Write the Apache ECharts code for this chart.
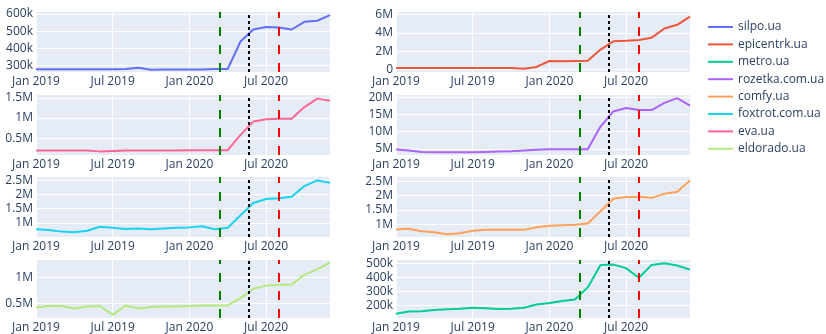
<!DOCTYPE html>
<html>
<head>
<meta charset="utf-8">
<script src="https://cdn.jsdelivr.net/npm/echarts@6/dist/echarts.min.js"></script>
<style>
  html, body { margin: 0; padding: 0; background: #fff; }
  #chart { width: 826px; height: 334px; }
</style>
</head>
<body>
<div id="chart"></div>
<script>
// monthly points, Jan 2019 .. Dec 2020
const months = [
  '2019-01', '2019-02', '2019-03', '2019-04', '2019-05', '2019-06',
  '2019-07', '2019-08', '2019-09', '2019-10', '2019-11', '2019-12',
  '2020-01', '2020-02', '2020-03', '2020-04', '2020-05', '2020-06',
  '2020-07', '2020-08', '2020-09', '2020-10', '2020-11', '2020-12'
];
const xTickLabels = ['Jan 2019', 'Jul 2019', 'Jan 2020', 'Jul 2020'];

const silpo = [278, 278, 278, 278, 278, 278, 278, 280, 287, 275, 276, 276,
  276, 276, 279, 280, 440, 510, 525, 521, 510, 555, 561, 594].map(v => v * 1e3);
const epicentrk = [0.2, 0.2, 0.2, 0.2, 0.2, 0.2, 0.2, 0.2, 0.2, 0.18, 0.1, 0.3,
  0.95, 0.92, 0.95, 0.97, 2.2, 3.1, 3.15, 3.25, 3.5, 4.5, 4.9, 5.8].map(v => v * 1e6);
const metro = [138, 154, 156, 165, 170, 175, 182, 177, 172, 175, 182, 205,
  216, 230, 240, 327, 488, 490, 465, 396, 488, 500, 484, 454].map(v => v * 1e3);
const rozetka = [4.8, 4.5, 4.1, 4.0, 4.0, 4.0, 4.0, 4.1, 4.2, 4.3, 4.5, 4.7,
  4.9, 4.9, 4.9, 4.9, 11.5, 15.9, 16.9, 16.3, 16.3, 18.4, 19.8, 17.6].map(v => v * 1e6);
const comfy = [0.81, 0.84, 0.75, 0.72, 0.65, 0.68, 0.77, 0.8, 0.8, 0.8, 0.8, 0.89,
  0.94, 0.96, 0.98, 1.02, 1.45, 1.89, 1.95, 1.96, 1.92, 2.06, 2.13, 2.53].map(v => v * 1e6);
const foxtrot = [0.77, 0.75, 0.69, 0.67, 0.72, 0.86, 0.83, 0.78, 0.8, 0.77, 0.8, 0.83,
  0.84, 0.88, 0.77, 0.83, 1.27, 1.7, 1.84, 1.87, 1.92, 2.3, 2.5, 2.42].map(v => v * 1e6);
const eva = [0.19, 0.19, 0.19, 0.19, 0.19, 0.17, 0.18, 0.19, 0.19, 0.19, 0.19, 0.19,
  0.2, 0.2, 0.2, 0.2, 0.58, 0.91, 0.97, 0.98, 0.98, 1.27, 1.48, 1.43].map(v => v * 1e6);
const eldorado = [0.42, 0.45, 0.45, 0.40, 0.44, 0.45, 0.28, 0.46, 0.40, 0.43, 0.44, 0.44,
  0.45, 0.46, 0.46, 0.46, 0.6, 0.78, 0.84, 0.85, 0.86, 1.05, 1.15, 1.28].map(v => v * 1e6);

// quarantine dates (vertical lines)
const eventDates = ['2020-03-12', '2020-05-22', '2020-08-01'];

// legend order
const sites = ['silpo.ua', 'epicentrk.ua', 'metro.ua', 'rozetka.com.ua',
  'comfy.ua', 'foxtrot.com.ua', 'eva.ua', 'eldorado.ua'];
const siteData = [silpo, epicentrk, metro, rozetka, comfy, foxtrot, eva, eldorado];
const colors = ['#636EFA', '#EF553B', '#00CC96', '#AB63FA',
  '#FFA15A', '#19D3F3', '#FF6692', '#B6E880'];

// panel placement: [col, row, yMin, yMax, yTicks]
const panels = [
  [0, 0, 262e3, 612e3, [300e3, 400e3, 500e3, 600e3]],
  [1, 0, -0.25e6, 6.3e6, [0, 2e6, 4e6, 6e6]],
  [1, 3, 108e3, 523e3, [200e3, 300e3, 400e3, 500e3]],
  [1, 1, 3.2e6, 20.7e6, [5e6, 10e6, 15e6, 20e6]],
  [1, 2, 0.55e6, 2.65e6, [1e6, 1.5e6, 2e6, 2.5e6]],
  [0, 2, 0.5e6, 2.62e6, [1e6, 1.5e6, 2e6, 2.5e6]],
  [0, 1, 0.08e6, 1.57e6, [0.5e6, 1e6, 1.5e6]],
  [0, 3, 0.22e6, 1.33e6, [0.5e6, 1e6]]
];
const colLeft = [36, 396];
const rowTop = [12, 95, 177, 260];
const plotW = 294, plotH = 60;

function monthIndex(d) {
  const [y, m, day] = d.split('-').map(Number);
  const dim = new Date(y, m, 0).getDate();
  return (y - 2019) * 12 + (m - 1) + (day - 1) / dim;
}

// plotly style: M when the axis reaches millions, k otherwise
function makeFmt(ticks) {
  const useM = Math.max(...ticks) >= 1e6;
  return v => {
    if (v === 0) return '0';
    return useM ? (v / 1e6) + 'M' : (v / 1e3) + 'k';
  };
}

const textColor = '#2a3f5f';
const font = 'Open Sans';
const eventStyles = [
  { color: '#008000', type: [9, 9] },
  { color: '#000000', type: [3, 3] },
  { color: '#FF0000', type: [9, 9] }
];

const grids = [], xAxes = [], yAxes = [], series = [];
panels.forEach((p, i) => {
  const [col, row, yMin, yMax, yTicks] = p;
  grids.push({
    left: colLeft[col], top: rowTop[row], width: plotW, height: plotH,
    show: true, backgroundColor: '#E5ECF6', borderWidth: 0
  });
  xAxes.push({
    type: 'value', gridIndex: i, min: 0, max: months.length - 1, interval: 6,
    axisLine: { show: false }, axisTick: { show: false },
    splitLine: { show: true, lineStyle: { color: '#fff', width: 1 } },
    axisLabel: {
      color: textColor, fontFamily: font, fontSize: 12, margin: 4,
      formatter: v => xTickLabels[v / 6] || ''
    }
  });
  yAxes.push({
    type: 'value', gridIndex: i, min: yMin, max: yMax,
    axisLine: { show: false },
    axisTick: { show: false, customValues: yTicks },
    splitLine: { show: true, lineStyle: { color: '#fff', width: 1 } },
    axisLabel: {
      customValues: yTicks, color: textColor, fontFamily: font, fontSize: 12,
      margin: 3, formatter: makeFmt(yTicks)
    }
  });
  series.push({
    name: sites[i], type: 'line', xAxisIndex: i, yAxisIndex: i,
    data: siteData[i].map((v, k) => [k, v]),
    symbol: 'none', lineStyle: { width: 2, color: colors[i] },
    itemStyle: { color: colors[i] }, silent: true,
    markLine: {
      silent: true, symbol: 'none', label: { show: false },
      data: eventDates.map((d, k) => ({
        xAxis: monthIndex(d),
        lineStyle: { color: eventStyles[k].color, type: eventStyles[k].type, width: 2 }
      }))
    }
  });
});

const chart = echarts.init(document.getElementById('chart'));
chart.setOption({
  animation: false,
  color: colors,
  grid: grids,
  xAxis: xAxes,
  yAxis: yAxes,
  legend: {
    data: sites, orient: 'vertical', left: 708, top: 20, padding: 0,
    icon: 'path://M0,0L25,0L25,2L0,2Z',
    itemWidth: 25, itemHeight: 2, itemGap: 3.4,
    textStyle: { color: textColor, fontFamily: font, fontSize: 12, lineHeight: 14 }
  },
  series: series
});
</script>
</body>
</html>
